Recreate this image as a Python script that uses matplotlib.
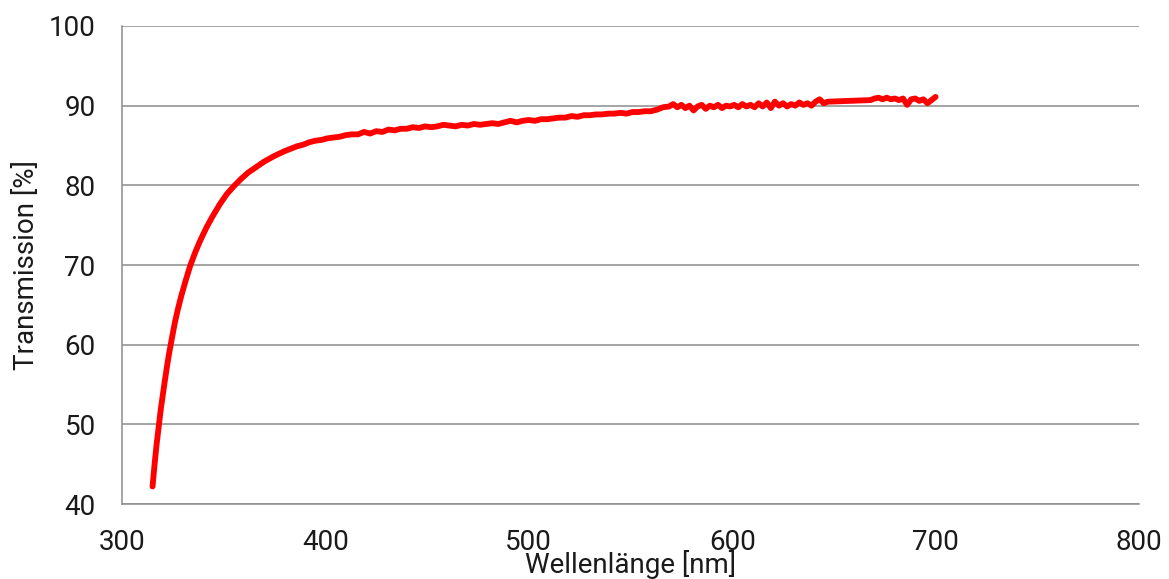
import matplotlib.pyplot as plt

plt.rcParams['font.family'] = ['Roboto', 'DejaVu Sans']

# --- Data ---
wavelength_nm = [
    315, 316, 317, 318, 319, 320, 321, 322, 323, 324.5, 326, 327.5, 329, 331, 333.5,
    336, 338.5, 341.5, 344.5, 348, 351.5, 355, 358.5, 362, 366, 370, 375, 380,
    383, 386, 389, 392, 395, 398, 401, 404, 407, 410, 413, 416, 419, 422, 425,
    428, 431, 434, 437, 440, 443, 446, 449, 452, 455, 458, 461, 464, 467, 470,
    473, 476, 479, 482, 485, 488, 491, 494, 497, 500, 503, 506, 509, 512, 515,
    518, 521, 524, 527, 530, 533, 536, 539, 542, 545, 548, 551, 554, 557, 560,
    563, 566, 569, 571, 573, 575, 577, 579, 581, 583, 585, 587, 589, 591, 593,
    595, 597, 599, 601, 603, 605, 607, 609, 611, 613, 615, 617, 619, 621, 623,
    625, 627, 629, 631, 633, 635, 637, 639, 641, 643, 645, 647,
    668, 670, 672, 674, 676, 678, 680, 682, 684, 686, 688, 690, 692, 694, 696,
    698, 700,
]
transmission_pct = [
    42.2, 45.0, 47.5, 49.7, 51.8, 53.6, 55.4, 57.1, 58.7, 60.8, 62.8, 64.5, 66.0, 67.8, 69.9,
    71.6, 73.1, 74.7, 76.1, 77.6, 78.9, 79.9, 80.8, 81.6, 82.3, 83.0, 83.7, 84.3,
    84.6, 84.9, 85.1, 85.4, 85.6, 85.7, 85.9, 86.0, 86.1, 86.3, 86.4, 86.4, 86.7, 86.5, 86.8,
    86.7, 87.0, 86.9, 87.1, 87.1, 87.3, 87.2, 87.4, 87.3, 87.4, 87.6, 87.5, 87.4, 87.6, 87.5,
    87.7, 87.6, 87.7, 87.8, 87.7, 87.9, 88.1, 87.9, 88.1, 88.2, 88.1, 88.3, 88.3, 88.4, 88.5,
    88.5, 88.7, 88.6, 88.8, 88.8, 88.9, 88.9, 89.0, 89.0, 89.1, 89.0, 89.2, 89.2, 89.3, 89.3,
    89.5, 89.8, 89.9, 90.2, 89.8, 90.1, 89.7, 90.0, 89.4, 89.9, 90.1, 89.6, 90.0, 89.8, 90.1,
    89.7, 90.0, 89.9, 90.1, 89.8, 90.2, 89.9, 90.1, 89.8, 90.3, 89.9, 90.4, 89.7, 90.5, 90.0,
    90.3, 89.9, 90.2, 90.0, 90.4, 90.1, 90.3, 90.0, 90.5, 90.8, 90.3, 90.5,
    90.7, 90.9, 91.0, 90.8, 91.0, 90.8, 90.9, 90.7, 90.9, 90.1, 90.8, 90.9, 90.6, 90.8, 90.3,
    90.7, 91.1,
]

X_TICKS = [300, 400, 500, 600, 700, 800]
Y_TICKS = [40, 50, 60, 70, 80, 90, 100]

fig = plt.figure(figsize=(11.69, 5.79), dpi=100)
ax = fig.add_axes([0.1044, 0.1295, 0.8699, 0.8256])

ax.plot(wavelength_nm, transmission_pct, color='#ff0000', lw=4.2,
        solid_joinstyle='round', solid_capstyle='round', zorder=3)

ax.set_xlim(300, 800)
ax.set_ylim(40, 100)
ax.set_xticks(X_TICKS)
ax.set_yticks(Y_TICKS)
ax.grid(True, axis='y', color='#8c8c8c', lw=1.1)
ax.set_axisbelow(True)

for side in ['top', 'right']:
    ax.spines[side].set_visible(False)
for side in ['left', 'bottom']:
    ax.spines[side].set_color('#8c8c8c')
    ax.spines[side].set_linewidth(1.1)

ax.tick_params(axis='both', length=0, labelsize=20, colors='#1a1a1a')
ax.tick_params(axis='y', pad=19)
ax.tick_params(axis='x', pad=18)

# the axis title sits right under the tick labels, as in the original
ax.set_xlabel('Wellenlänge [nm]', fontsize=20, color='#1a1a1a')
ax.set_ylabel('Transmission [%]', fontsize=20, color='#1a1a1a')
ax.xaxis.set_label_coords(0.5, -0.096)
ax.yaxis.set_label_coords(-0.081, 0.5)

fig.savefig('out.png', dpi=100)
